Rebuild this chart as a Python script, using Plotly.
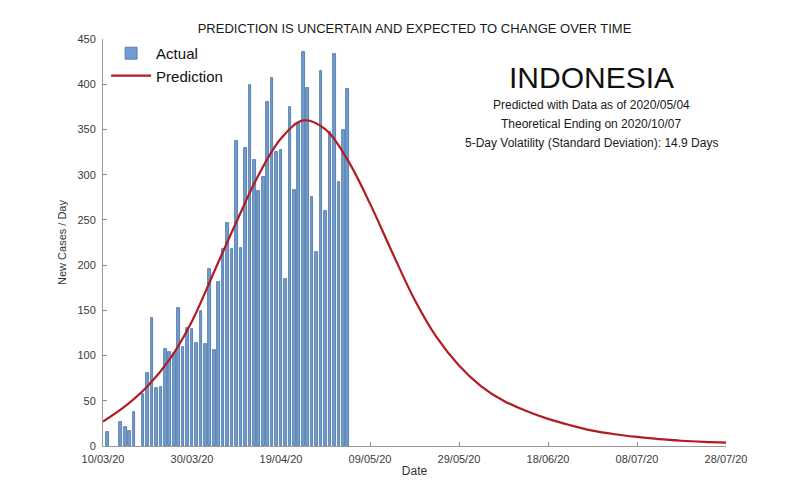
import plotly.graph_objects as go

# ---- data ----
actual_dates = [
    "2020-03-11", "2020-03-14", "2020-03-15", "2020-03-16", "2020-03-17",
    "2020-03-19", "2020-03-20", "2020-03-21", "2020-03-22", "2020-03-23",
    "2020-03-24", "2020-03-25", "2020-03-26", "2020-03-27", "2020-03-28",
    "2020-03-29", "2020-03-30", "2020-03-31", "2020-04-01", "2020-04-02",
    "2020-04-03", "2020-04-04", "2020-04-05", "2020-04-06", "2020-04-07",
    "2020-04-08", "2020-04-09", "2020-04-10", "2020-04-11", "2020-04-12",
    "2020-04-13", "2020-04-14", "2020-04-15", "2020-04-16", "2020-04-17",
    "2020-04-18", "2020-04-19", "2020-04-20", "2020-04-21", "2020-04-22",
    "2020-04-23", "2020-04-24", "2020-04-25", "2020-04-26", "2020-04-27",
    "2020-04-28", "2020-04-29", "2020-04-30", "2020-05-01", "2020-05-02",
    "2020-05-03", "2020-05-04",
]
actual_values = [
    15, 27, 21, 17, 38,
    57, 81, 141, 64, 65,
    107, 104, 103, 153, 109,
    130, 129, 114, 149, 113,
    196, 106, 181, 218, 247,
    218, 337, 219, 330, 399,
    316, 282, 297, 380, 407,
    325, 327, 185, 375, 283,
    357, 436, 396, 275, 214,
    415, 260, 347, 433, 292,
    349, 395,
]

pred_dates = [
    "2020-03-10", "2020-03-15", "2020-03-20", "2020-03-25", "2020-03-30",
    "2020-04-04", "2020-04-09", "2020-04-14", "2020-04-19", "2020-04-24",
    "2020-04-29", "2020-05-04", "2020-05-09", "2020-05-14", "2020-05-19",
    "2020-05-24", "2020-05-29", "2020-06-03", "2020-06-08", "2020-06-13",
    "2020-06-18", "2020-06-23", "2020-06-28", "2020-07-03", "2020-07-08",
    "2020-07-13", "2020-07-18", "2020-07-23", "2020-07-28",
]
pred_values = [
    27, 44, 66, 96, 138,
    193, 248, 300, 340, 360,
    350, 316, 268, 214, 162,
    120, 89, 66, 50, 39,
    30, 23, 17, 13, 10,
    7.5, 5.8, 4.6, 3.7,
]

title_text = "PREDICTION IS UNCERTAIN AND EXPECTED TO CHANGE OVER TIME"
country = "INDONESIA"
info_lines = [
    "Predicted with Data as of 2020/05/04",
    "Theoretical Ending on 2020/10/07",
    "5-Day Volatility (Standard Deviation): 14.9 Days",
]

DAY_MS = 86400000
FONT = "Liberation Sans, Arial, sans-serif"

fig = go.Figure()
fig.add_trace(go.Bar(
    x=actual_dates, y=actual_values, name="Actual",
    width=0.6 * DAY_MS,
    marker=dict(color="#6f9dd0", line=dict(color="#4a71a0", width=0.8)),
))
fig.add_trace(go.Scatter(
    x=pred_dates, y=pred_values, name="Prediction", mode="lines",
    line=dict(color="#b31b22", width=2.2, shape="spline", smoothing=1.0),
))

fig.update_layout(
    width=800, height=500,
    margin=dict(l=103, r=74, t=39, b=54),
    paper_bgcolor="white", plot_bgcolor="white",
    font=dict(family=FONT, color="#333", size=11),
    title=dict(text=title_text, x=0.5, xref="paper", xanchor="center",
               y=1 - 28 / 500, yref="container", yanchor="middle",
               font=dict(size=13, color="#1a1a1a", family=FONT)),
    showlegend=True,
    legend=dict(x=0.005, y=1.005, xanchor="left", yanchor="top",
                bgcolor="rgba(0,0,0,0)", borderwidth=0,
                font=dict(size=15, color="#111", family=FONT),
                itemwidth=40, tracegroupgap=0),
    bargap=0,
)

fig.update_xaxes(
    type="date",
    range=["2020-03-10", "2020-07-28"],
    tick0="2020-03-10", dtick=20 * DAY_MS, tickformat="%d/%m/%y",
    ticks="inside", ticklen=4, tickcolor="#888",
    showline=True, linecolor="#999", linewidth=1,
    showgrid=False, zeroline=False,
    ticklabelstandoff=3,
    tickfont=dict(size=11, color="#3a3a3a"),
    title=dict(text="Date", font=dict(size=12, color="#333"), standoff=2),
)
fig.update_yaxes(
    range=[0, 450], dtick=50,
    ticks="inside", ticklen=4, tickcolor="#888",
    showline=True, linecolor="#999", linewidth=1,
    showgrid=False, zeroline=False,
    ticklabelstandoff=4,
    tickfont=dict(size=11, color="#3a3a3a"),
    title=dict(text="New Cases / Day", font=dict(size=11, color="#333"), standoff=8),
)

cx = (591 - 103) / 623
fig.add_annotation(text=country, xref="paper", yref="paper", x=cx, y=(446 - 78) / 407,
                   xanchor="center", yanchor="middle", showarrow=False,
                   font=dict(size=30, color="#111", family=FONT))
for line, py in zip(info_lines, [105, 124, 143]):
    fig.add_annotation(text=line, xref="paper", yref="paper", x=cx, y=(446 - py) / 407,
                       xanchor="center", yanchor="middle", showarrow=False,
                       font=dict(size=12, color="#1a1a1a", family=FONT))

fig.write_html("out.html")
